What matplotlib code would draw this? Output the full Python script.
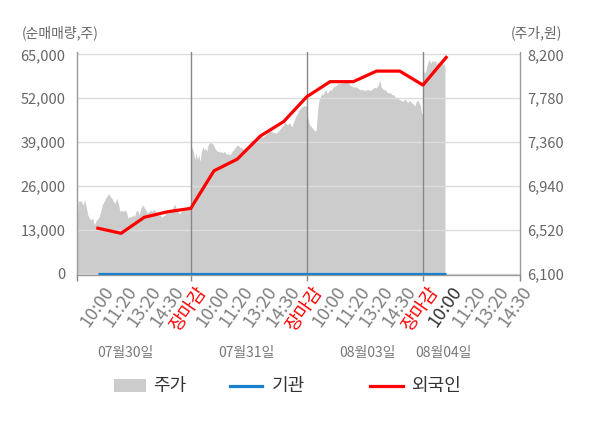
import matplotlib
matplotlib.use('Agg')
import matplotlib.pyplot as plt
import numpy as np
from matplotlib.patches import Rectangle
from matplotlib.lines import Line2D
from matplotlib.transforms import ScaledTranslation

plt.rcParams['font.family'] = ['Noto Sans CJK KR', 'DejaVu Sans']

# ---------------- data ----------------
tick_labels = ['10:00', '11:20', '13:20', '14:30', '장마감'] * 3 + ['10:00', '11:20', '13:20', '14:30']
date_labels = ['07월30일', '07월31일', '08월03일', '08월04일']

# 외국인 cumulative net purchase (shares), at tick points 0..15
foreign = [13550, 12030, 16780, 18400, 19410,
           30530, 33970, 40840, 45090, 52470,
           56920, 56920, 60050, 60050, 55910,
           64100]
# 기관 cumulative net purchase (shares)
institution = [0] * 16

# intraday price (원) per day
price_d1 = [6460, 6797, 6797, 6797, 6760, 6807, 6744, 6665, 6634, 6618, 6634, 6570, 6602, 6624,
            6643, 6696, 6760, 6791, 6823, 6845, 6870, 6839, 6823, 6791, 6776, 6823, 6775, 6696,
            6712, 6696, 6712, 6696, 6634, 6649, 6643, 6665, 6649, 6696, 6712, 6665, 6728, 6760,
            6738, 6712, 6681, 6696, 6712, 6696, 6719, 6703, 6681, 6656, 6665, 6643, 6656, 6665,
            6696, 6719, 6712, 6696, 6738, 6769, 6728, 6696, 6675, 6696, 6712, 6728, 6707, 6728,
            6738, 6747]
price_d2 = [7350, 7303, 7271, 7192, 7256, 7192, 7240, 7177, 7271, 7319, 7287, 7303, 7271, 7334,
            7350, 7356, 7350, 7334, 7303, 7287, 7271, 7277, 7262, 7271, 7256, 7271, 7262, 7239,
            7256, 7239, 7249, 7271, 7287, 7303, 7319, 7334, 7324, 7303, 7319, 7287, 7303, 7287,
            7303, 7319, 7350, 7375, 7381, 7375, 7366, 7381, 7398, 7407, 7429, 7419, 7407, 7419,
            7429, 7445, 7454, 7460, 7470, 7460, 7451, 7454, 7445, 7460, 7470, 7486, 7502, 7514,
            7539, 7555, 7523, 7533, 7545, 7523, 7508, 7555, 7586, 7618, 7634, 7665, 7681, 7697,
            7704, 7712, 7704, 7712]
price_d3 = [7639, 7576, 7528, 7513, 7497, 7481, 7465, 7481, 7670, 7765, 7796, 7828, 7812, 7844,
            7859, 7828, 7844, 7865, 7854, 7875, 7891, 7897, 7906, 7922, 7916, 7928, 7922, 7938,
            7947, 7954, 7938, 7922, 7906, 7900, 7891, 7887, 7891, 7887, 7875, 7865, 7859, 7865,
            7859, 7854, 7859, 7865, 7859, 7854, 7865, 7875, 7887, 7875, 7891, 7906, 7960, 7891,
            7875, 7859, 7865, 7844, 7834, 7828, 7834, 7812, 7819, 7796, 7789, 7780, 7773, 7765,
            7759, 7749, 7765, 7773, 7749, 7739, 7759, 7749, 7733, 7724, 7702, 7749, 7765, 7739,
            7717, 7639, 7623]
price_d4 = [8004, 8036, 8020, 8068, 8115, 8153, 8130, 8115, 8146, 8122, 8146, 8130, 8107, 8130,
            8115, 8138, 8130, 8099, 8115, 8083]

# ---------------- layout ----------------
XMIN, XMAX = -0.92, 18.18
day_spans = [(-0.92, 4), (4, 9), (9, 14), (14, 14.95)]
day_bounds = [4, 9, 14]

fig = plt.figure(figsize=(6, 4.28), dpi=100)
ax = fig.add_axes([0.1275, 0.3568, 0.7392, 0.5217])
ax2 = ax.twinx()
ax.set_zorder(ax2.get_zorder() + 1)
ax.patch.set_visible(False)
ax2.patch.set_facecolor('#f4f4f4')

# price area
xs, ys = [], []
for (s, e), d in zip(day_spans, [price_d1, price_d2, price_d3, price_d4]):
    xs.append(np.linspace(s, e, len(d)))
    ys.append(np.array(d, dtype=float))
px = np.concatenate(xs)
py = np.concatenate(ys)
ax2.fill_between(px, 6000, py, color='#cccccc', lw=0, zorder=1)
ax2.set_ylim(6087, 8222.6)
ax2.set_yticks(np.arange(6100, 8201, 420))
ax2.set_yticklabels([f'{v:,}' for v in np.arange(6100, 8201, 420)])
ax2.tick_params(axis='y', length=0, pad=5, labelsize=10.5, labelcolor='#666666')
for sp in ax2.spines.values():
    sp.set_visible(False)

# left axis
ax.set_xlim(XMIN, XMAX)
ax.set_ylim(-400, 65700)
yt = np.arange(0, 65001, 13000)
ax.set_yticks(yt)
ax.set_yticklabels([f'{v:,}' for v in yt])
ax.tick_params(axis='y', length=0, pad=8, labelsize=10.5, labelcolor='#666666')
ax.set_axisbelow(True)
ax.yaxis.grid(True, color='#dcdcdc', lw=1)

for b in day_bounds:
    ax.axvline(b, color='#888888', lw=1, zorder=1)

idx = np.arange(len(foreign))
ax.plot(idx, institution, color='#1a82cc', lw=2.3, zorder=3, solid_capstyle='butt')
ax.plot(idx, foreign, color='#ff0000', lw=2.3, zorder=4)

ax.spines['top'].set_visible(False)
for k in ['left', 'right', 'bottom']:
    ax.spines[k].set_color('#999999')
    ax.spines[k].set_linewidth(1)

ax.set_xticks([XMIN] + day_bounds + [XMAX])
ax.set_xticklabels([])
ax.tick_params(axis='x', length=4, color='#888888', width=1)

# x tick labels (rotated)
for i, lab in enumerate(tick_labels):
    if lab == '장마감':
        col = '#ff0000'
    elif i == 15:
        col = '#333333'
    else:
        col = '#808080'
    tr = ax.get_xaxis_transform() + ScaledTranslation(5 / 100, -8 / 100, fig.dpi_scale_trans)
    ax.text(i, 0, lab, transform=tr, rotation=55, ha='right', va='top',
            rotation_mode='anchor', fontsize=13, color=col, fontweight='light')

date_x = [1.18, 6.39, 11.6, 14.87]
for dx, dl in zip(date_x, date_labels):
    ax.text(dx, -0.348, dl, transform=ax.get_xaxis_transform(), ha='center', va='center',
            fontsize=10, color='#777777')

# axis titles
fig.text(22 / 600, 1 - 33 / 428, '(순매매량,주)', ha='left', va='center', fontsize=10, color='#666666')
fig.text(562 / 600, 1 - 33 / 428, '(주가,원)', ha='right', va='center', fontsize=10, color='#666666')

# legend
fig.patches.append(Rectangle((114.3 / 600, 1 - 392.3 / 428), 31.4 / 600, 13 / 428,
                             transform=fig.transFigure, color='#cccccc', lw=0))
fig.text(152.7 / 600, 1 - 386.5 / 428, '주가', ha='left', va='center', fontsize=13, color='#333333')
fig.lines.append(Line2D([230 / 600, 261.7 / 600], [1 - 385.7 / 428] * 2, transform=fig.transFigure,
                        color='#1a82cc', lw=2.3))
fig.text(272 / 600, 1 - 386.5 / 428, '기관', ha='left', va='center', fontsize=13, color='#333333')
fig.lines.append(Line2D([370 / 600, 402.7 / 600], [1 - 385.7 / 428] * 2, transform=fig.transFigure,
                        color='#ff0000', lw=2.3))
fig.text(411 / 600, 1 - 386.5 / 428, '외국인', ha='left', va='center', fontsize=13, color='#333333')

fig.savefig('out.png', dpi=100)
